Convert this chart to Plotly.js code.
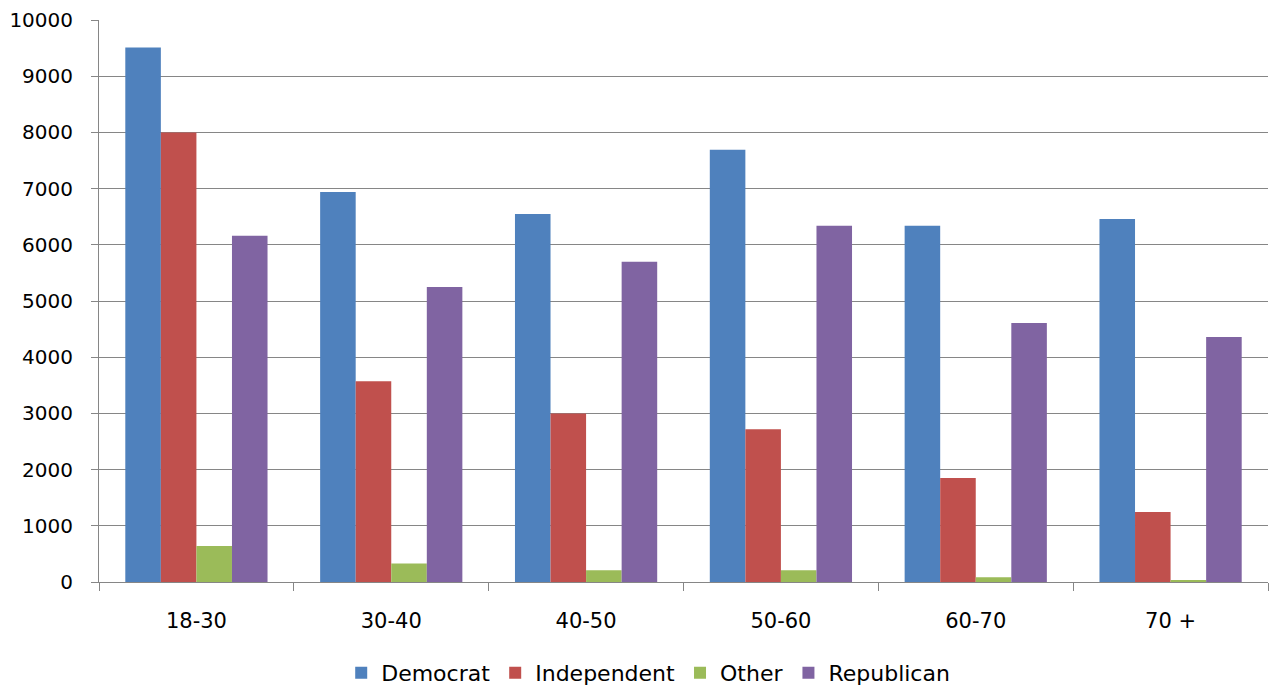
<!DOCTYPE html>
<html>
<head>
<meta charset="utf-8">
<script src="https://cdn.plot.ly/plotly-3.0.1.min.js"></script>
<style>html,body{margin:0;padding:0;background:#fff;}#chart{width:1271px;height:686px;}</style>
</head>
<body>
<div id="chart"></div>
<script>
const categories = ["18-30", "30-40", "40-50", "50-60", "60-70", "70 +"];
const democrat = [9510, 6940, 6550, 7690, 6340, 6460];
const independent = [8000, 3570, 3000, 2720, 1850, 1245];
const other = [640, 330, 210, 210, 85, 35];
const republican = [6160, 5250, 5700, 6340, 4610, 4360];

const seriesNames = ["Democrat", "Independent", "Other", "Republican"];
const seriesValues = [democrat, independent, other, republican];
const colors = ["#4F81BD", "#C0504D", "#9BBB59", "#8064A2"];

const traces = seriesNames.map((n, i) => ({
  type: "bar", name: n, x: categories, y: seriesValues[i],
  marker: {color: colors[i]}
}));

const layout = {
  width: 1271, height: 686,
  margin: {l: 99, r: 3, t: 20, b: 104},
  barmode: "group", bargap: 0.27, bargroupgap: 0,
  paper_bgcolor: "#fff", plot_bgcolor: "#fff",
  font: {family: "DejaVu Sans, Liberation Sans, sans-serif", color: "#000"},
  xaxis: {
    automargin: false,
    tickson: "boundaries", ticks: "outside", ticklen: 8, tickcolor: "#868686",
    showline: true, linecolor: "#868686", linewidth: 1,
    tickfont: {size: 21, color: "#000"}, showgrid: false, ticklabelstandoff: 20
  },
  yaxis: {
    automargin: false,
    range: [0, 10000], dtick: 1000, tickformat: "d", ticks: "outside", ticklen: 7, tickcolor: "#868686",
    showline: true, linecolor: "#868686", gridcolor: "#868686", gridwidth: 1,
    tickfont: {size: 20, color: "#000"}, zeroline: false, ticklabelstandoff: 14
  },
  legend: {orientation: "h", x: 0.51, xanchor: "center", xref: "container",
    y: 0.019, yanchor: "middle", yref: "container",
    font: {size: 22}, itemwidth: 30, tracegroupgap: 0},
  showlegend: true
};
Plotly.newPlot("chart", traces, layout, {displayModeBar: false});
</script>
</body>
</html>
